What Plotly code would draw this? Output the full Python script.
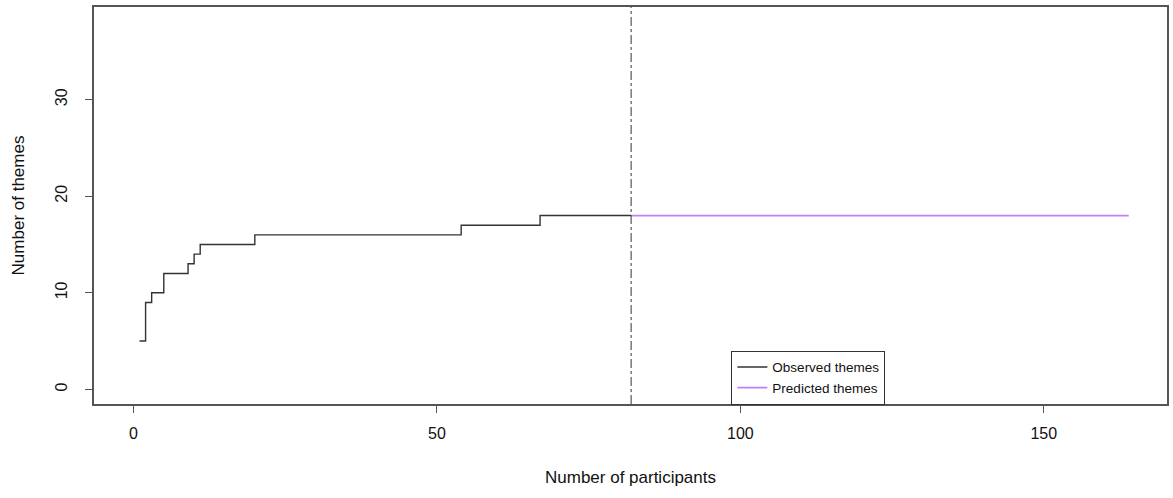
import plotly.graph_objects as go

# Observed themes (step function)
obs_participants = [1, 2, 3, 5, 9, 10, 11, 20, 54, 67, 82]
obs_themes = [5, 9, 10, 12, 13, 14, 15, 16, 17, 18, 18]

# Predicted themes
pred_participants = [82, 164]
pred_themes = [18, 18]

cutoff = 82
x_ticks = [0, 50, 100, 150]
y_ticks = [0, 10, 20, 30]

font_family = "Liberation Sans, Arial, Helvetica, sans-serif"

fig = go.Figure()
fig.add_trace(go.Scatter(
    x=obs_participants, y=obs_themes, mode="lines", line_shape="hv",
    line=dict(color="#333333", width=1.4), name="Observed themes"))
fig.add_trace(go.Scatter(
    x=pred_participants, y=pred_themes, mode="lines",
    line=dict(color="#C77CFF", width=1.8), name="Predicted themes"))

fig.add_shape(type="line", xref="x", yref="paper", x0=cutoff, x1=cutoff, y0=0, y1=1,
              line=dict(color="#333333", width=1, dash="dashdot"), layer="above")

fig.update_layout(
    width=1173, height=498,
    margin=dict(l=94, r=6, t=7, b=94),
    paper_bgcolor="white", plot_bgcolor="white",
    font=dict(family=font_family, size=16, color="#111111"),
    showlegend=True,
    legend=dict(x=0.594, y=-0.002, xanchor="left", yanchor="bottom",
                bgcolor="white", bordercolor="#333333", borderwidth=1,
                font=dict(size=13.5, family=font_family), tracegroupgap=0,
                itemwidth=30),
)
fig.update_xaxes(
    range=[-6.5, 170.3], tickvals=x_ticks, ticktext=[str(v) for v in x_ticks],
    showgrid=False, zeroline=False, showline=True, mirror=True, automargin=False,
    linecolor="#555555", linewidth=1.5, ticks="outside", ticklen=7,
    tickcolor="#555555", ticklabelstandoff=7, tickfont=dict(size=16),
    title=dict(text="Number of participants", standoff=30, font=dict(size=17)),
)
fig.update_yaxes(
    range=[-1.52, 39.6], tickvals=y_ticks, ticktext=[str(v) for v in y_ticks],
    tickangle=-90,
    showgrid=False, zeroline=False, showline=True, mirror=True, automargin=False,
    linecolor="#555555", linewidth=1.5, ticks="outside", ticklen=7,
    tickcolor="#555555", ticklabelstandoff=12, tickfont=dict(size=16),
    title=dict(text="Number of themes", standoff=24, font=dict(size=17)),
)

fig.write_html("out.html", config={"displayModeBar": False},
               post_script="document.body.style.margin='0';")
